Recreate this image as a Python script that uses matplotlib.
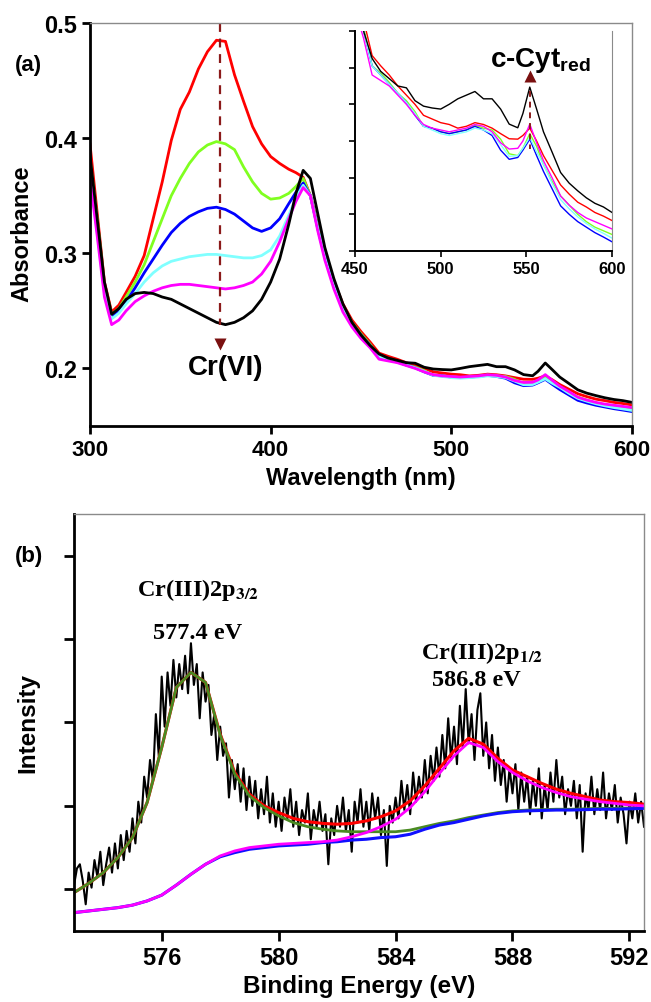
import matplotlib
matplotlib.use("Agg")
import matplotlib.pyplot as plt
import numpy as np

plt.rcParams["font.family"] = ["Liberation Sans", "DejaVu Sans"]
plt.rcParams["font.weight"] = "bold"
plt.rcParams["axes.labelweight"] = "bold"
plt.rcParams["mathtext.fontset"] = "custom"
plt.rcParams["mathtext.bf"] = "Liberation Sans:bold"
plt.rcParams["mathtext.rm"] = "Liberation Sans:bold"

# ---- (a) UV-vis spectra -------------------------------------------------
wavelength = [300, 304, 308, 312, 316, 320, 325, 330, 335, 340, 345, 350, 355, 360,
              365, 370, 375, 380, 385, 390, 395, 400, 405, 410, 414, 418, 422, 426,
              430, 435, 440, 445, 450, 455, 460, 465, 470, 475, 480, 485, 490, 495,
              500, 505, 510, 515, 520, 525, 530, 535, 540, 545, 548, 552, 556, 560,
              565, 570, 575, 580, 585, 590, 595, 600]

abs_red = [0.395, 0.335, 0.275, 0.249, 0.255, 0.266, 0.280, 0.298, 0.330, 0.362, 0.398,
           0.425, 0.440, 0.460, 0.475, 0.485, 0.484, 0.455, 0.432, 0.410, 0.395, 0.384,
           0.378, 0.373, 0.370, 0.366, 0.350, 0.325, 0.300, 0.276, 0.256, 0.242, 0.232,
           0.223, 0.2133, 0.2105, 0.208, 0.205, 0.2025, 0.200, 0.197, 0.196, 0.195,
           0.1945, 0.1935, 0.194, 0.195, 0.1945, 0.1935, 0.192, 0.1906, 0.1905, 0.1915,
           0.1935, 0.190, 0.186, 0.182, 0.178, 0.1755, 0.1733, 0.172, 0.1705, 0.1695, 0.1683]

abs_green = [0.382, 0.330, 0.272, 0.247, 0.252, 0.262, 0.275, 0.290, 0.310, 0.330, 0.350,
             0.365, 0.378, 0.388, 0.394, 0.397, 0.395, 0.390, 0.375, 0.362, 0.352, 0.347,
             0.348, 0.352, 0.358, 0.365, 0.350, 0.323, 0.298, 0.274, 0.254, 0.240, 0.230,
             0.221, 0.2105, 0.2085, 0.206, 0.203, 0.201, 0.198, 0.194, 0.1935, 0.1925,
             0.192, 0.1925, 0.193, 0.1943, 0.1935, 0.193, 0.1905, 0.1865, 0.186, 0.188,
             0.192, 0.1885, 0.1836, 0.179, 0.175, 0.1725, 0.170, 0.168, 0.1665, 0.1655, 0.1645]

abs_blue = [0.373, 0.320, 0.268, 0.244, 0.250, 0.258, 0.270, 0.283, 0.295, 0.307, 0.318,
            0.326, 0.332, 0.336, 0.339, 0.340, 0.338, 0.334, 0.328, 0.322, 0.319, 0.322,
            0.330, 0.343, 0.353, 0.361, 0.350, 0.322, 0.297, 0.272, 0.252, 0.239, 0.229,
            0.220, 0.2105, 0.208, 0.2055, 0.203, 0.2005, 0.197, 0.194, 0.1935, 0.1925,
            0.192, 0.1925, 0.193, 0.194, 0.193, 0.1915, 0.1875, 0.185, 0.1855, 0.1875,
            0.1905, 0.186, 0.1817, 0.177, 0.1723, 0.170, 0.168, 0.1665, 0.165, 0.1638, 0.1625]

abs_cyan = [0.370, 0.318, 0.266, 0.243, 0.248, 0.256, 0.265, 0.275, 0.283, 0.289, 0.293,
            0.295, 0.297, 0.298, 0.299, 0.299, 0.298, 0.297, 0.296, 0.296, 0.298, 0.303,
            0.315, 0.333, 0.348, 0.359, 0.350, 0.322, 0.296, 0.271, 0.251, 0.238, 0.228,
            0.220, 0.2105, 0.208, 0.2055, 0.203, 0.2005, 0.1975, 0.194, 0.193, 0.192,
            0.1915, 0.192, 0.1925, 0.1935, 0.193, 0.192, 0.189, 0.1858, 0.186, 0.188,
            0.191, 0.187, 0.1836, 0.1785, 0.174, 0.1715, 0.1693, 0.1675, 0.166, 0.1648, 0.1635]

abs_magenta = [0.365, 0.315, 0.262, 0.238, 0.242, 0.250, 0.258, 0.263, 0.267, 0.270, 0.272,
               0.273, 0.273, 0.272, 0.271, 0.270, 0.269, 0.270, 0.272, 0.275, 0.282, 0.293,
               0.310, 0.330, 0.345, 0.357, 0.350, 0.320, 0.294, 0.269, 0.249, 0.236, 0.226,
               0.218, 0.208, 0.2065, 0.205, 0.2025, 0.200, 0.197, 0.1945, 0.1935, 0.193,
               0.1925, 0.193, 0.1935, 0.1945, 0.194, 0.1925, 0.1895, 0.1878, 0.188, 0.190,
               0.1946, 0.1895, 0.1846, 0.180, 0.175, 0.1725, 0.1705, 0.169, 0.168, 0.167, 0.166]

abs_black = [0.385, 0.330, 0.275, 0.247, 0.252, 0.260, 0.265, 0.266, 0.265, 0.262, 0.260,
             0.256, 0.252, 0.248, 0.244, 0.240, 0.238, 0.240, 0.244, 0.250, 0.260, 0.275,
             0.295, 0.325, 0.352, 0.372, 0.365, 0.335, 0.305, 0.278, 0.256, 0.240, 0.229,
             0.220, 0.2125, 0.209, 0.207, 0.205, 0.2045, 0.201, 0.1995, 0.199, 0.1987,
             0.200, 0.2015, 0.2025, 0.2035, 0.2015, 0.2015, 0.1987, 0.1946, 0.1936, 0.1975,
             0.2047, 0.1987, 0.1925, 0.187, 0.1814, 0.1785, 0.1764, 0.1745, 0.173, 0.172, 0.1705]

uv_series = [
    (abs_red, "#ff0000"),
    (abs_green, "#80ff20"),
    (abs_blue, "#0000ff"),
    (abs_cyan, "#80ffff"),
    (abs_magenta, "#ff00ff"),
    (abs_black, "#000000"),
]

cr6_wavelength = 372
cr6_line_top, cr6_line_bottom, cr6_arrow_y = 0.5, 0.238, 0.2215
cyt_wavelength = 552
cyt_line_top, cyt_line_bottom, cyt_arrow_y = 0.2035, 0.1878, 0.2077

# ---- (b) Cr 2p XPS ------------------------------------------------------
energy_fit = [573.0, 573.5, 574.0, 574.5, 575.0, 575.5, 576.0, 576.5, 577.0, 577.5,
              578.0, 578.5, 579.0, 579.5, 580.0, 580.5, 581.0, 581.5, 582.0, 582.5,
              583.0, 583.5, 584.0, 584.5, 585.0, 585.5, 586.0, 586.5, 587.0, 587.5,
              588.0, 588.5, 589.0, 589.5, 590.0, 590.5, 591.0, 591.5, 592.0, 592.5]

fit_background = [0.72, 0.74, 0.76, 0.78, 0.81, 0.86, 0.93, 1.05, 1.18, 1.30,
                  1.39, 1.44, 1.48, 1.50, 1.52, 1.53, 1.54, 1.56, 1.57, 1.59,
                  1.60, 1.62, 1.63, 1.66, 1.72, 1.77, 1.80, 1.84, 1.88, 1.91,
                  1.93, 1.94, 1.945, 1.95, 1.95, 1.955, 1.96, 1.96, 1.965, 1.97]

fit_p32 = [0.96, 1.07, 1.20, 1.38, 1.62, 2.04, 2.70, 3.42, 3.60, 3.48,
           2.85, 2.38, 2.12, 1.98, 1.88, 1.80, 1.75, 1.72, 1.70, 1.69,
           1.69, 1.69, 1.69, 1.71, 1.75, 1.79, 1.82, 1.86, 1.89, 1.92,
           1.94, 1.95, 1.955, 1.96, 1.96, 1.965, 1.97, 1.97, 1.975, 1.98]

fit_p12 = [0.72, 0.74, 0.76, 0.78, 0.81, 0.86, 0.93, 1.05, 1.18, 1.30,
           1.40, 1.46, 1.50, 1.52, 1.54, 1.55, 1.56, 1.57, 1.59, 1.63,
           1.68, 1.75, 1.84, 1.98, 2.17, 2.39, 2.60, 2.76, 2.70, 2.53,
           2.40, 2.30, 2.22, 2.16, 2.11, 2.08, 2.05, 2.03, 2.01, 2.00]

fit_total = [0.96, 1.07, 1.20, 1.38, 1.62, 2.04, 2.70, 3.42, 3.60, 3.48,
             2.86, 2.40, 2.14, 2.00, 1.92, 1.85, 1.81, 1.79, 1.78, 1.79,
             1.82, 1.87, 1.94, 2.06, 2.24, 2.45, 2.66, 2.81, 2.74, 2.57,
             2.43, 2.35, 2.27, 2.20, 2.15, 2.11, 2.07, 2.05, 2.04, 2.02]

energy_raw = np.round(np.arange(573.0, 592.55, 0.1), 1)
intensity_raw = [
    1.05, 1.25, 1.30, 1.10, 0.82, 1.20, 1.02, 1.35, 1.15, 1.45,
    1.05, 1.30, 1.50, 1.20, 1.55, 1.25, 1.65, 1.35, 1.70, 1.45,
    1.85, 1.55, 2.05, 1.80, 2.35, 2.10, 2.55, 2.30, 3.10, 2.60,
    3.55, 2.95, 3.60, 3.20, 3.75, 3.30, 3.70, 3.40, 3.80, 3.35,
    3.95, 3.45, 3.70, 3.05, 3.60, 3.25, 3.45, 2.85, 3.10, 2.55,
    2.95, 2.60, 2.75, 2.10, 2.55, 2.20, 2.50, 2.05, 2.45, 1.95,
    2.35, 2.00, 2.30, 1.85, 2.20, 1.90, 2.35, 1.80, 2.15, 1.75,
    2.05, 1.70, 2.10, 1.85, 2.20, 1.75, 2.05, 1.65, 1.95, 1.80,
    2.15, 1.60, 1.95, 1.75, 2.05, 1.70, 1.90, 1.30, 1.85, 1.65,
    2.00, 1.75, 2.10, 1.70, 1.95, 1.45, 2.05, 1.80, 2.20, 1.75,
    2.05, 1.70, 2.15, 1.85, 2.10, 1.65, 1.95, 1.28, 2.00, 1.80,
    2.10, 1.85, 2.30, 1.95, 2.25, 1.90, 2.40, 2.05, 2.35, 2.10,
    2.55, 2.15, 2.60, 2.30, 2.70, 2.35, 2.85, 2.45, 3.05, 2.55,
    2.95, 2.50, 3.20, 2.70, 3.40, 2.75, 3.10, 2.55, 3.15, 3.35,
    2.60, 3.00, 2.45, 2.85, 2.30, 2.70, 2.25, 2.55, 2.05, 2.45,
    2.15, 2.50, 1.95, 2.40, 2.05, 2.35, 1.90, 2.30, 2.00, 2.45,
    1.85, 2.25, 1.95, 2.40, 2.05, 2.55, 2.10, 2.35, 1.90, 2.20,
    2.00, 2.30, 1.85, 2.25, 1.45, 2.15, 1.95, 2.35, 1.90, 2.20,
    1.95, 2.40, 1.85, 2.15, 1.95, 2.25, 1.80, 2.10, 1.90, 1.55,
    2.05, 1.85, 2.15, 1.80, 2.05, 1.75,
]

xps_labels = [
    (575.16, 4.53, r"Cr(III)2p$_{\mathbf{3/2}}$"),
    (575.70, 4.01, "577.4 eV"),
    (584.87, 3.77, r"Cr(III)2p$_{\mathbf{1/2}}$"),
    (585.25, 3.45, "586.8 eV"),
]


def style_frame(ax, lw=2.0):
    ax.spines["left"].set_linewidth(lw)
    ax.spines["bottom"].set_linewidth(lw)
    for side in ("top", "right"):
        ax.spines[side].set_color("#8a8a8a")
        ax.spines[side].set_linewidth(1.0)


fig = plt.figure(figsize=(6.51, 10.03), dpi=100)

# panel (a)
ax = fig.add_axes([0.1382, 0.5743, 0.8326, 0.4018])
for values, color in uv_series:
    ax.plot(wavelength, values, color=color, lw=2.0)
ax.plot([cr6_wavelength, cr6_wavelength], [cr6_line_top, cr6_line_bottom],
        color="#8b1a1a", lw=1.6, ls=(0, (4, 3)))
ax.plot(cr6_wavelength, cr6_arrow_y, marker="v", ms=9, color="#7a1010", mec="none")
ax.text(375, 0.201, "Cr(VI)", fontsize=20, ha="center", va="center")
ax.set_xlim(300, 600)
ax.set_ylim(0.15, 0.5)
ax.set_xticks([300, 400, 500, 600])
ax.set_yticks([0.2, 0.3, 0.4, 0.5])
ax.tick_params(axis="x", labelsize=16, length=6, width=2, direction="out")
ax.tick_params(axis="y", labelsize=17, length=6, width=2, direction="out")
ax.set_xlabel("Wavelength (nm)", fontsize=17, labelpad=4)
ax.set_ylabel("Absorbance", fontsize=17)
ax.yaxis.set_label_coords(-0.105, 0.48)
style_frame(ax)

# inset zoom on the 450-600 nm region
axi = fig.add_axes([0.5453, 0.7488, 0.3948, 0.2193])
for values, color in uv_series:
    axi.plot(wavelength, values, color=color, lw=1.0)
axi.plot([cyt_wavelength, cyt_wavelength], [cyt_line_top, cyt_line_bottom],
         color="#8b1a1a", lw=1.4, ls=(0, (3, 2.5)))
axi.plot(cyt_wavelength, cyt_arrow_y, marker="^", ms=8, color="#7a1010", mec="none")
axi.text(528.8, 0.2105, r"c-Cyt$_{\mathbf{red}}$", fontsize=20, ha="left", va="baseline")
axi.set_xlim(450, 600)
axi.set_ylim(0.16, 0.22)
axi.set_xticks([450, 500, 550, 600])
axi.set_yticks(np.round(np.arange(0.16, 0.2201, 0.01), 2))
axi.set_yticklabels([])
axi.tick_params(axis="x", labelsize=12, length=4, width=1.2, pad=3)
axi.tick_params(axis="y", length=4, width=1.2)
axi.spines["left"].set_linewidth(1.4)
axi.spines["bottom"].set_linewidth(1.4)
axi.spines["top"].set_visible(False)
axi.spines["right"].set_color("#8a8a8a")
axi.spines["right"].set_linewidth(0.8)

# panel (b)
bx = fig.add_axes([0.1137, 0.0708, 0.8756, 0.4158])
bx.plot(energy_raw, intensity_raw, color="black", lw=1.5)
bx.plot(energy_fit, fit_total, color="#ff0000", lw=2.2)
bx.plot(energy_fit, fit_p32, color="#4a8a22", lw=2.0)
bx.plot(energy_fit, fit_background, color="#1010ff", lw=2.2)
bx.plot(energy_fit, fit_p12, color="#ff00ff", lw=2.0)
for x, y, label in xps_labels:
    bx.text(x, y, label, fontsize=17.5, ha="left", va="baseline",
            family=["Liberation Serif", "DejaVu Serif"], math_fontfamily="stix")
bx.set_xlim(573, 592.5)
bx.set_ylim(0.5, 5.5)
bx.set_xticks([576, 580, 584, 588, 592])
bx.set_yticks([1, 2, 3, 4, 5])
bx.set_yticklabels([])
bx.tick_params(axis="x", labelsize=17, length=7, width=2, direction="out")
bx.tick_params(axis="y", length=7, width=2, direction="out")
bx.set_xlabel("Binding Energy (eV)", fontsize=17.5, labelpad=4)
bx.set_ylabel("Intensity", fontsize=17.5)
bx.yaxis.set_label_coords(-0.061, 0.5)
style_frame(bx)

fig.text(0.043, 0.935, "(a)", fontsize=16, ha="center", va="center")
fig.text(0.0445, 0.4447, "(b)", fontsize=16, ha="center", va="center")

fig.savefig("out.png", dpi=100)
